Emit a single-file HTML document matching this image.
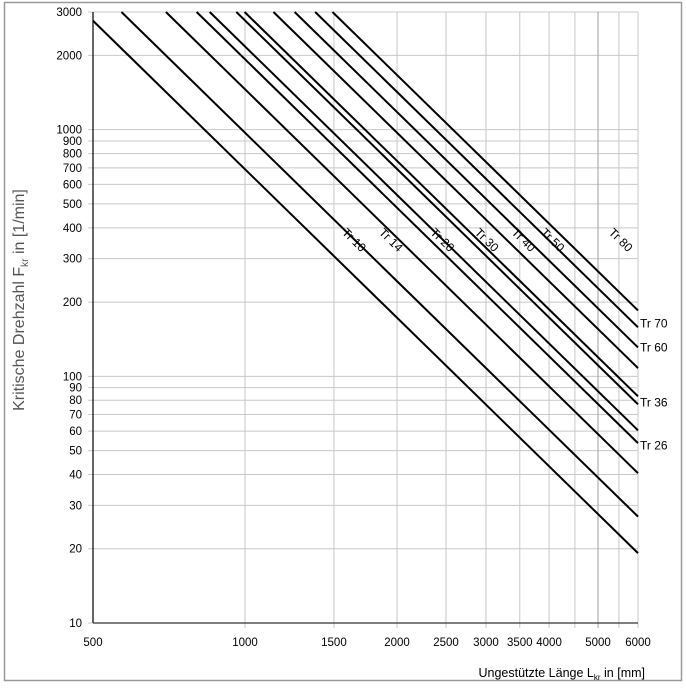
<!DOCTYPE html>
<html><head><meta charset="utf-8"><style>
body{margin:0;background:#fff;}
svg{display:block;font-family:"Liberation Sans","DejaVu Sans",sans-serif;}
</style></head><body>
<svg id="chart" width="686" height="688" viewBox="0 0 686 688">
<rect x="4.5" y="2.5" width="677" height="678" fill="#fff" stroke="#999" stroke-width="1.5"/>
<g id="grid"></g>
<g id="series"></g>
<g id="labels"></g>
<g id="axes"></g>
<text transform="translate(24,300) rotate(-90)" text-anchor="middle" font-size="16" fill="#555">Kritische Drehzahl F<tspan font-size="10" dy="4">kr</tspan><tspan dy="-4"> in [1/min]</tspan></text>
<text x="645" y="677" text-anchor="end" font-size="12.5" fill="#000">Ungestützte Länge L<tspan font-size="8" dy="3">kr</tspan><tspan dy="-3"> in [mm]</tspan></text>
</svg>
<script>
const seriesNames = ["Tr 10","Tr 14","Tr 20","Tr 26","Tr 30","Tr 36","Tr 40","Tr 50","Tr 60","Tr 70","Tr 80"];
const valuesAt6000 = [19.2,27,40.5,53.6,60.4,77,83,108,131,158,185];
const insideLabels = ["Tr 10","Tr 14","Tr 20","Tr 30","Tr 40","Tr 50","Tr 80"];
const insideLabelX = [1644,1945,2460,3010,3560,4065,5545];
const rightLabels = ["Tr 70","Tr 60","Tr 36","Tr 26"];
const rightLabelVals = [164,131,78.5,52.5];
const xTicks = [500,1000,1500,2000,2500,3000,3500,4000,5000,6000];
const xGrid = [1000,1500,2000,2500,3000,3500,4000,4500,5000,5500,6000];
const yTicks = [10,20,30,40,50,60,70,80,90,100,200,300,400,500,600,700,800,900,1000,2000,3000];

const X0=93,X1=638,Y0=623,Y1=12;
const lx0=Math.log10(500),lx1=Math.log10(6000),ly0=1,ly1=Math.log10(3000);
const sx=v=>X0+(Math.log10(v)-lx0)/(lx1-lx0)*(X1-X0);
const sy=v=>Y0-(Math.log10(v)-ly0)/(ly1-ly0)*(Y0-Y1);
const NS="http://www.w3.org/2000/svg";
function mk(tag,parent,attrs){const e=document.createElementNS(NS,tag);for(const k in attrs)e.setAttribute(k,attrs[k]);parent.appendChild(e);return e;}
const grid=document.getElementById('grid'),series=document.getElementById('series'),labels=document.getElementById('labels'),axes=document.getElementById('axes');

yTicks.forEach(v=>{
  const y=sy(v);
  const g=mk('line',grid,{x1:X0-5,x2:X1,y1:y,y2:y,stroke:'#c8c8c8','stroke-width':1});
  
  
  const t=mk('text',axes,{x:X0-11,y:y+4,'text-anchor':'end','font-size':11.5,fill:'#000'});
  t.textContent=v;
  
  
});
xGrid.forEach(v=>{
  const x=sx(v);
  const g=mk('line',grid,{x1:x,x2:x,y1:Y1,y2:Y0+5,stroke:v==5000?'#a0a0a0':'#c8c8c8','stroke-width':1});
  
  
});
xTicks.forEach(v=>{
  const t=mk('text',axes,{x:sx(v),y:646,'text-anchor':'middle','font-size':11.5,fill:'#000'});
  t.textContent=v;
  
  
});
const ax=mk('line',axes,{x1:X0,x2:X0,y1:Y1,y2:Y0,stroke:'#000','stroke-width':1.2});


const bx=mk('line',axes,{x1:X0,x2:X1,y1:Y0,y2:Y0,stroke:'#333','stroke-width':1.2});



valuesAt6000.forEach((v,i)=>{
  const k=v*6000*6000;
  let L0=500; if(k/(L0*L0)>3000) L0=Math.sqrt(k/3000);
  const p=mk('line',series,{x1:sx(L0),y1:sy(k/(L0*L0)),x2:sx(6000),y2:sy(v),stroke:'#000','stroke-width':2});
  
  
});
insideLabels.forEach((n,i)=>{
  const x=sx(insideLabelX[i]);
  const t=mk('text',labels,{x:x,y:244,'text-anchor':'middle','font-size':12,fill:'#000',transform:`rotate(44.4 ${x} 240)`});
  t.textContent=n;
  
  
});
rightLabels.forEach((n,i)=>{
  const t=mk('text',labels,{x:640,y:sy(rightLabelVals[i])+4,'font-size':12,fill:'#000'});
  t.textContent=n;
  
  
});
</script>
</body></html>
